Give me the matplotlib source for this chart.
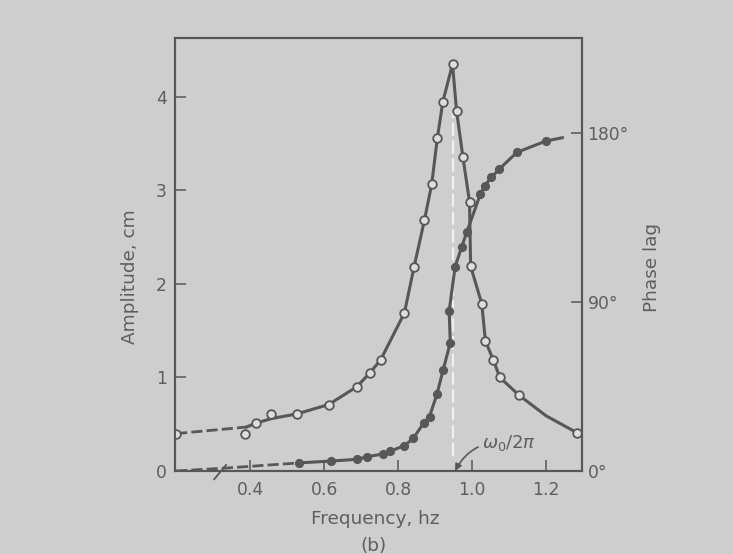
import matplotlib
matplotlib.use("Agg")
import matplotlib.pyplot as plt

# ---------------- data ----------------
# Amplitude (open circles), frequency in hz, amplitude in cm
amp_freq = [0.20, 0.386, 0.415, 0.457, 0.526, 0.612, 0.688, 0.724, 0.753, 0.817,
            0.843, 0.871, 0.891, 0.906, 0.921, 0.947, 0.958, 0.975, 0.993, 0.996,
            1.026, 1.036, 1.057, 1.075, 1.127, 1.283]
amp_val = [0.40, 0.40, 0.51, 0.61, 0.61, 0.71, 0.90, 1.05, 1.19, 1.69,
           2.18, 2.68, 3.07, 3.56, 3.95, 4.35, 3.85, 3.36, 2.88, 2.19,
           1.79, 1.39, 1.19, 1.00, 0.81, 0.41]

# Smooth amplitude curve drawn through the data
amp_dash_freq = [0.20, 0.39]
amp_dash_val = [0.40, 0.47]
amp_curve_freq = [0.39, 0.415, 0.457, 0.526, 0.612, 0.688, 0.724, 0.753, 0.817,
                  0.843, 0.871, 0.891, 0.906, 0.921, 0.947, 0.958, 0.975, 0.993,
                  0.996, 1.026, 1.036, 1.057, 1.075, 1.127, 1.20, 1.283]
amp_curve_val = [0.47, 0.51, 0.56, 0.61, 0.71, 0.90, 1.05, 1.19, 1.69,
                 2.18, 2.68, 3.07, 3.56, 3.95, 4.35, 3.85, 3.36, 2.88,
                 2.19, 1.79, 1.39, 1.19, 1.00, 0.81, 0.59, 0.41]

# Phase lag (filled circles), degrees
ph_freq = [0.531, 0.618, 0.688, 0.717, 0.759, 0.778, 0.817, 0.841, 0.870, 0.885,
           0.905, 0.922, 0.941, 0.938, 0.954, 0.972, 0.986, 1.022, 1.034, 1.052,
           1.073, 1.121, 1.199]
ph_val = [4.3, 5.3, 6.2, 7.6, 9.1, 10.5, 13.5, 17.4, 25.8, 29.0,
          41.0, 54.0, 68.3, 85.2, 108.8, 119.4, 127.4, 147.3, 151.9, 156.4,
          160.7, 169.7, 175.7]
ph_dash_freq = [0.20, 0.33, 0.531]
ph_dash_val = [0.0, 1.5, 4.3]
ph_curve_freq = ph_freq + [1.244]
ph_curve_val = ph_val + [177.5]

resonance = 0.947
x_ticks = [0.4, 0.6, 0.8, 1.0, 1.2]
x_ticklabels = ["0.4", "0.6", "0.8", "1.0", "1.2"]
amp_ticks = [0, 1, 2, 3, 4]
ph_ticks = [0, 90, 180]
ph_ticklabels = ["0°", "90°", "180°"]

# ---------------- style ----------------
BG = "#cecece"
INK = "#575757"
TXT = "#5e5e5e"
plt.rcParams["font.family"] = ["DejaVu Sans"]

fig = plt.figure(figsize=(7.33, 5.54), dpi=100, facecolor=BG)
ax = fig.add_axes([175 / 733, 1 - 471 / 554, 407 / 733, 433 / 554])
ax.set_facecolor(BG)
ax2 = ax.twinx()
ax2.patch.set_visible(False)

ax.set_xlim(0.197, 1.297)
ax.set_ylim(0, 4.63)
ax2.set_ylim(0, 230.6)

for a in (ax, ax2):
    for s in a.spines.values():
        s.set_color(INK)
        s.set_linewidth(1.5)

# resonance dashed white line
ax.plot([resonance, resonance], [0.16, 3.84], color="#f0f0f0", lw=1.6,
        dashes=(6, 2), zorder=1)

# amplitude curve
ax.plot(amp_dash_freq, amp_dash_val, color=INK, lw=2.0, dashes=(4, 1.5), zorder=2)
ax.plot(amp_curve_freq, amp_curve_val, color=INK, lw=2.2, zorder=2,
        solid_joinstyle="round")
ax.plot(amp_freq, amp_val, linestyle="none", marker="o", ms=6.2,
        mfc="#dedede", mec=INK, mew=1.3, zorder=3)

# phase curve
ax2.plot(ph_dash_freq, ph_dash_val, color=INK, lw=2.0, dashes=(4, 1.5), zorder=2)
ax2.plot(ph_curve_freq, ph_curve_val, color=INK, lw=2.2, zorder=2,
         solid_joinstyle="round")
ax2.plot(ph_freq, ph_val, linestyle="none", marker="o", ms=5.6,
         mfc=INK, mec=INK, zorder=3)

# axis break mark
tr = ax.get_xaxis_transform()
ax.plot([0.300, 0.326], [0.0, 0.0], color=BG, lw=3, transform=tr,
        clip_on=False, zorder=4)
ax.plot([0.303, 0.335], [-0.019, 0.014], color=INK, lw=1.3, transform=tr,
        clip_on=False, zorder=5)

# ticks
ax.set_xticks(x_ticks)
ax.set_xticklabels(x_ticklabels)
ax.set_yticks(amp_ticks)
ax2.set_yticks(ph_ticks)
ax2.set_yticklabels(ph_ticklabels)
ax.tick_params(axis="x", direction="in", length=8, width=1.1, color=INK,
               labelcolor=TXT, labelsize=12.3, pad=7, top=False)
ax.tick_params(axis="y", direction="in", length=8, width=1.1, color=INK,
               labelcolor=TXT, labelsize=12.3, pad=6)
ax2.tick_params(axis="y", direction="in", length=8, width=1.1, color=INK,
                labelcolor=TXT, labelsize=12.3, pad=4)

# labels
fig.text(130 / 733, 1 - 277 / 554, "Amplitude, cm", rotation=90, ha="center",
         va="center", fontsize=13.3, color=TXT)
fig.text(652 / 733, 1 - 267 / 554, "Phase lag", rotation=90, ha="center",
         va="center", fontsize=13.3, color=TXT)
fig.text(375 / 733, 1 - 519 / 554, "Frequency, hz", ha="center", va="center",
         fontsize=13.3, color=TXT)
fig.text(373 / 733, 1 - 546 / 554, "(b)", ha="center", va="center",
         fontsize=13.3, color=TXT)

# resonance annotation
ax.annotate(r"$\omega_0/2\pi$", xy=(0.954, 0.0), xytext=(1.027, 0.30),
            fontsize=13, color=TXT, va="center", ha="left",
            arrowprops=dict(arrowstyle="-|>", color=INK, lw=1.2,
                            shrinkA=1, shrinkB=0, mutation_scale=10,
                            connectionstyle="arc3,rad=0.35"))

fig.savefig("out.png", dpi=100, facecolor=BG)
